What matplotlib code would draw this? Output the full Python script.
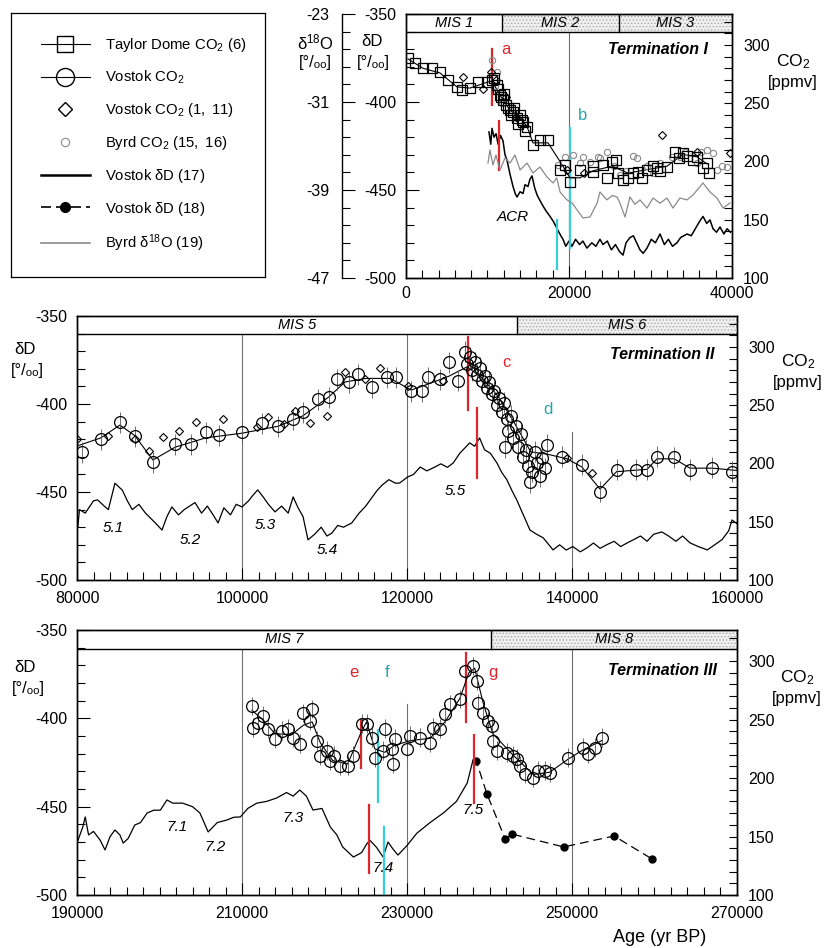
import matplotlib.pyplot as plt
from matplotlib.lines import Line2D
from matplotlib.patches import Rectangle
from matplotlib.ticker import MultipleLocator, FixedLocator
import numpy as np

plt.rcParams['font.family'] = ['Liberation Sans', 'DejaVu Sans']
plt.rcParams['mathtext.fontset'] = 'custom'
plt.rcParams['mathtext.rm'] = 'Liberation Sans'
plt.rcParams['mathtext.it'] = 'Liberation Sans:italic'
plt.rcParams['hatch.linewidth'] = 0.6
plt.rcParams['axes.unicode_minus'] = False

RED = '#e0242b'
CYAN = '#33cfdc'
TEAL = '#2aa3ad'
GREY = '#8a8a8a'

# ---------------- Termination I (0-40 kyr) ----------------
td_age = [250, 1100, 2090, 3190, 4170, 5150, 6260, 6870, 7850, 8830, 9940, 10550, 10800, 11170, 11300,
          11530, 11700, 11900, 12000, 12270, 12500, 12760, 12900, 13130, 13300, 13620, 13800, 14000, 14200,
          14360, 14600, 14850, 15580, 16440, 17420, 18900, 19500, 20120, 21350, 22950, 23000, 24170, 24700,
          25280, 25800, 26010, 26600, 27240, 27800, 28470, 29000, 29570, 30300, 30800, 31200, 32020, 33010,
          33500, 33990, 34500, 35200, 35700, 36400, 36930, 37200]
td_co2 = [288.8, 284.5, 280.2, 280.2, 276.7, 269.9, 263.9, 261.3, 263, 268.2, 268.2, 269.9, 272, 265.6, 262,
          257, 255, 252.7, 258, 248.4, 246, 244.1, 240, 242.4, 246, 237.3, 232, 239.9, 236,
          233.8, 226, 229.6, 214.1, 218.4, 218.4, 192.7, 197, 182.4, 192.7, 191, 196, 197, 186,
          199.5, 201, 190, 184, 185.8, 190, 191, 186, 192.7, 196, 194.4, 192, 195.2, 208.1,
          203, 207.2, 205, 201, 203.8, 194, 198.7, 190]
td_line_age = [250, 2090, 4170, 6260, 7850, 9940, 10550, 11530, 12760, 14000, 14850, 15580, 17420, 18900,
               20120, 21350, 22950, 25280, 27240, 29570, 32020, 33990, 35700, 36930]
td_line_co2 = [288, 280, 276, 264, 263, 268, 269, 257, 244, 238, 230, 216, 216, 200,
               186, 186, 192, 196, 190, 193, 196, 206, 204, 198]

vk_dia_age1 = [7000, 9500, 10400, 11000, 12300, 13500, 19800, 21800, 31400, 35700, 39750]
vk_dia_co21 = [272.5, 262, 277, 270, 255, 238, 193, 190, 222.7, 208, 207]

byrd_age = [10550, 10900, 11170, 11800, 18600, 19500, 20490, 21350, 21720, 22580, 23560, 23800, 24660,
            25500, 26200, 27000, 27900, 28340, 29600, 30300, 31170, 32600, 33620, 34200, 35700, 36200,
            36930, 37670, 38160, 38800, 39390]
byrd_co2 = [287, 265, 276.7, 250, 197, 204, 205.5, 198.7, 203.8, 199.5, 203.8, 203, 208,
            196, 188, 192, 205, 203, 196, 190, 198.7, 204, 203.8, 208, 198.7, 208,
            209.8, 207.2, 192.7, 196, 195.2]

vd1_age = [10180, 10400, 10550, 10800, 11050, 11300, 11600, 11900, 12150, 12390, 12760, 13130, 13400, 13620,
           14000, 14360, 14600, 14970, 15200, 15460, 15800, 16100, 16440, 16800, 17200, 17670, 18100, 18650,
           19000, 19260, 19600, 20000, 20370, 20800, 21300, 21700, 22200, 22800, 23300, 23800, 24170, 24700,
           25200, 25700, 26200, 26630, 27000, 27480, 27900, 28300, 28710, 29100, 29570, 30100, 30600, 31170,
           31700, 32200, 32700, 33250, 33700, 34480, 35000, 35500, 36000, 36440, 36900, 37300, 37670, 38100,
           38530, 39000, 39400, 39800]
vd1_dd = [-417, -424, -415, -420, -418, -424, -419, -422, -430, -433, -441, -448, -452, -454,
          -451, -452, -447, -448, -444, -442, -449, -453, -456, -459, -462, -465, -468, -473,
          -476, -478, -482, -479, -482, -478, -481, -479, -483, -480, -482, -478, -481, -479,
          -484, -481, -485, -487, -480, -477, -476, -480, -484, -486, -483, -478, -480, -475,
          -481, -478, -482, -480, -477, -475, -476, -472, -468, -465, -469, -467, -472, -474,
          -471, -475, -472, -474]

byrd_d18o_age = [10060, 10300, 10670, 11040, 11530, 12150, 12760, 13370, 14000, 14850, 15580, 16440, 17300,
                 18040, 18500, 18900, 19750, 20400, 20980, 21720, 22580, 23440, 23800, 24660, 25300, 25900,
                 26260, 26870, 27480, 28100, 28710, 29570, 30310, 31170, 32020, 32760, 33620, 34480, 35220,
                 36440, 37300, 38160, 38900, 39750]
byrd_d18o = [-36.55, -35.36, -36.73, -35.82, -37.18, -36.09, -36.55, -35.82, -37.18, -36.55, -37.45, -36.91, -37.82,
             -38.36, -37.9, -39.18, -39.9, -40.2, -40.8, -41.55, -41.45, -40.2, -39.18, -39.9, -39.5, -39.64,
             -40.2, -41.45, -39.64, -40.3, -39.9, -40.64, -39.73, -40.2, -39.73, -40.64, -39.73, -39.9, -39.45,
             -38.36, -39.18, -39.73, -40.64, -40.18]

# ---------------- Termination II (80-160 kyr) ----------------
vk2_age = [80600, 82900, 85200, 87000, 89200, 91900, 93800, 95600, 97200, 100000, 102400, 104400, 106200,
           107400, 109200, 110500, 111500, 113000, 114000, 115800, 117600, 118700, 120500, 121800, 122500,
           124000, 125100, 126200, 127000, 127300, 127600, 127900, 128200, 128500, 128800, 129100, 129400,
           129700, 130000, 130300, 130600, 130900, 131200, 131500, 131800, 131900, 132100, 132300, 132600,
           132900, 133200, 133500, 133800, 134100, 134400, 134700, 134900, 135200, 135500, 135800, 136100,
           136400, 136700, 137000, 138800, 141200, 143400, 145400, 147700, 149100, 150300, 152400, 154300,
           157000, 159400]
vk2_co2 = [209.5, 220.7, 235.3, 223.3, 200.9, 216.4, 216.4, 226.7, 224.1, 226.7, 234.5, 231.9, 237.9,
           243.9, 255.2, 256.9, 272.4, 269.8, 276.7, 265.5, 274.1, 274.1, 262, 262, 274.1,
           272.4, 287, 271, 296, 285, 291, 280, 287, 276, 282, 271, 275,
           265, 270, 260, 262, 250, 256, 244, 252, 214, 238, 228, 241,
           222, 232, 214, 225, 206, 212, 198, 184, 193, 210, 200, 189,
           205, 196, 216, 206, 199.1, 175.9, 194.8, 194.8, 194.8, 206, 205.2, 194.8,
           196.5, 193]
vk2_line_age = [80000, 82900, 85200, 87000, 89200, 91900, 95600, 100000, 104400, 107400, 110500, 112500,
                115000, 118000, 120500, 122500, 125100, 127300, 129000, 131000, 133000, 135000, 137000,
                139400, 141200, 143400, 145400, 149100, 150300, 152400, 154300, 157000, 160000]
vk2_line_co2 = [215, 222, 233, 224, 203, 214, 222, 226, 232, 241, 257, 270,
                273, 273, 263, 268, 275, 283, 274, 258, 235, 210, 208,
                204, 197, 178, 193, 195, 204, 204, 196, 196, 194]
vk2_dia_age = [80000, 83800, 87000, 88700, 90400, 92400, 94400, 97700, 101800, 103200, 105100, 106400,
               108200, 110300, 112500, 114900, 116700, 120100, 124400, 139400, 142400]
vk2_dia_co2 = [220.7, 223.3, 221, 210.3, 222.4, 227.6, 235.3, 237.9, 231, 239.6, 233.6, 244.8,
               234.5, 240.5, 278.4, 272.4, 281.9, 266.4, 270.6, 205, 192.2]
vd2_age = [80100, 80300, 81000, 82000, 82500, 83300, 83800, 84600, 85500, 86100, 86700, 87500, 88300, 89500,
           90300, 90900, 91500, 92300, 93000, 94300, 95100, 95800, 96500, 97100, 97800, 98600, 99300, 100000,
           100800, 101300, 101900, 102600, 103200, 104000, 104800, 105600, 106200, 106800, 107400, 108000,
           108800, 109600, 110300, 110900, 111600, 112300, 113300, 114200, 115000, 115800, 116400, 117000,
           117800, 118600, 119100, 120100, 120800, 121600, 122400, 123300, 124100, 124900, 125600, 126400,
           127600, 128200, 128800, 129400, 130100, 130900, 131500, 132100, 132700, 133300, 134100, 134900,
           135700, 136500, 137700, 138500, 139300, 140100, 141000, 141800, 142600, 143400, 144200, 145100,
           145900, 146700, 147500, 148300, 149100, 149900, 150900, 151700, 152600, 153400, 154300, 155300,
           156400, 157300, 158200, 159000, 159400, 160000]
vd2_dd = [-469.8, -460, -462, -455, -454.5, -458, -460, -445, -449, -455, -460, -457, -462, -467.6,
          -471.6, -464, -458.5, -463, -460, -456, -462, -458, -463, -467.6, -459, -463, -457, -458.5,
          -455, -452, -448.8, -453, -457, -461.3, -458, -462, -452.8, -459, -464, -477.2,
          -474, -470, -475, -473.3, -469, -470, -467.6, -462, -458, -452.8, -449, -446,
          -443, -445, -444.9, -441.4, -440, -435.8, -438, -436, -434, -436, -433.5, -428,
          -422.1, -424, -419.3, -426, -428, -433.5, -439, -443, -449, -454.5, -463, -471.6,
          -474, -476, -482.9, -480, -483, -481, -484, -481.8, -479, -482, -480, -478,
          -481, -478.9, -477, -475, -478, -474, -472.7, -475, -478, -475, -478.9, -481,
          -482.9, -480, -477, -472, -465.9, -468]

# ---------------- Termination III (190-270 kyr) ----------------
vk3_age = [211200, 211300, 211900, 212500, 213100, 214000, 214800, 215600, 216200, 217000, 217400, 218200,
           218500, 219100, 219500, 220300, 220700, 221200, 221900, 222800, 223500, 224500, 225100, 225800,
           226100, 227100, 227300, 228200, 228300, 228500, 230000, 230400, 231600, 232800, 233100, 234000,
           234600, 235200, 236400, 237000, 238000, 238500, 238600, 239200, 239800, 240300, 240400, 240900,
           242100, 242800, 243300, 243700, 244300, 245300, 245900, 246700, 247300, 249500, 251300, 251900,
           252800, 253600]
vk3_co2 = [261.7, 243, 247, 253.2, 242.1, 233.6, 240.4, 242.1, 234.5, 229.4, 255.7, 248.9,
           259.1, 231.9, 219.1, 223.4, 214.9, 219, 210.6, 210.6, 219.1, 246.4, 246.4, 234.5,
           217.4, 223.4, 242.1, 225.1, 212.3, 233.6, 225.1, 236.2, 234.5, 230.2, 243, 242.1,
           254.9, 263.4, 267.6, 291.5, 295.7, 283, 264.2, 255.7, 248.9, 244.7, 231.9, 223.4,
           221.7, 219.1, 216.6, 210.6, 203.8, 200.4, 206.4, 206.4, 204.7, 217.4, 226, 220.9,
           226, 234.5]
vk3_line_age = [211200, 212500, 214000, 216000, 217400, 218500, 219500, 221000, 222800, 224500, 225100,
                226100, 227300, 228500, 230400, 232800, 234600, 236400, 237500, 238200, 239200, 240400,
                242800, 245300, 247300, 249500, 251300, 253600]
vk3_line_co2 = [258, 250, 238, 237, 245, 248, 230, 215, 212, 240, 248,
                225, 222, 228, 232, 234, 248, 268, 290, 294, 265, 238,
                220, 203, 205, 216, 224, 232]
vd3_age = [190000, 190700, 191000, 191400, 192000, 192800, 193400, 194000, 194600, 195200, 195600, 196200,
           197000, 197700, 198500, 199300, 200100, 200900, 201600, 202800, 204000, 204900, 205900, 207000,
           208200, 209000, 209800, 210700, 211800, 213000, 214200, 215400, 216200, 217000, 217800, 218600,
           219700, 220700, 221500, 222200, 223500, 224500, 225100, 225500, 226300, 227100, 227700, 228300,
           228900, 230000, 231200, 232800, 234400, 236000, 237300, 238000]
vd3_dd = [-470.6, -461.5, -455.8, -466, -464, -468.9, -474.5, -467, -463.2, -466, -470.6, -468,
          -460.4, -459, -453.6, -452, -452, -446.2, -448, -448, -450, -453.6, -464.3, -459,
          -457.5, -456, -455.8, -451, -448, -447, -445.1, -442, -444, -440.6, -444, -451.9,
          -451, -461.5, -466, -472.8, -478.5, -476, -471.2, -469, -473, -478.5, -470, -474,
          -477.4, -472, -465, -459, -453.6, -447, -436.6, -423.6]
vd18_age = [238000, 238400, 239700, 241900, 242700, 249000, 255100, 259700]
vd18_dd = [-423.6, -424.2, -442.9, -468.3, -465.5, -472.8, -466.6, -479.6]


def fx(x):
    return x / 829


def fy(y):
    return 1 - y / 948


def panel(rect, x0, x1, mis, grid):
    ax = fig.add_axes(rect)
    ax.set_xlim(x0, x1)
    ax.set_ylim(-500, -350)
    ax.set_xticks(np.arange(x0, x1 + 1, 20000))
    ax.xaxis.set_major_formatter(plt.FuncFormatter(lambda v, p: '%d' % v))
    ax.xaxis.set_minor_locator(MultipleLocator(2000))
    ax.set_yticks([-500, -450, -400, -350])
    ax.yaxis.set_minor_locator(MultipleLocator(10))
    ax.tick_params(which='both', direction='in', labelsize=11.5, width=0.8)
    ax.tick_params(which='major', length=9)
    ax.tick_params(which='minor', length=6)
    ax.tick_params(axis='x', pad=8)
    ax.tick_params(axis='y', pad=7)
    for s in ax.spines.values():
        s.set_linewidth(1.0)
    # MIS band
    band = -360.5
    for a, b, lab, shade in mis:
        if shade:
            ax.add_patch(Rectangle((a, band), b - a, -350 - band, facecolor='#f0f0f0',
                                   edgecolor='#a8a8a8', hatch='.....', lw=0, zorder=1))
        if a > x0:
            ax.plot([a, a], [band, -350], color='k', lw=1.0, zorder=2)
        ax.text((a + b) / 2, (band - 350) / 2, lab, style='italic', fontsize=10.5,
                ha='center', va='center', zorder=3)
    ax.axhline(band, color='k', lw=1.0, zorder=2)
    for g, ystart in grid:
        ax.plot([g, g], [ystart, -500], color='#6e6e6e', lw=0.8, zorder=1)
    ax2 = ax.twinx()
    ax2.set_ylim(100, 326.6)
    ax2.set_yticks([100, 150, 200, 250, 300])
    ax2.yaxis.set_minor_locator(MultipleLocator(10))
    ax2.tick_params(which='both', direction='in', labelsize=11.5, length=6, width=0.8, pad=8)
    for s in ax2.spines.values():
        s.set_linewidth(1.0)
    return ax, ax2


def mark(ax, x, y0, y1, color):
    ax.plot([x, x], [y0, y1], color=color, lw=1.6, zorder=6)


fig = plt.figure(figsize=(8.29, 9.48), dpi=100)

# ---------- top panel ----------
ax, ax2 = panel([fx(406), fy(278), 326 / 829, 264 / 948], 0, 40000,
                [(0, 11800, 'MIS 1', False), (11800, 26100, 'MIS 2', True), (26100, 40000, 'MIS 3', True)],
                [(20000, -360.5)])
ax.tick_params(axis='x', pad=6)
ax3 = ax.twinx()
ax3.set_ylim(-47, -23)
ax3.yaxis.set_ticks_position('left')
ax3.yaxis.set_label_position('left')
ax3.spines['left'].set_position(('axes', -0.196))
ax3.spines['left'].set_visible(True)
ax3.spines['left'].set_linewidth(1.0)
for k in ['right', 'top', 'bottom']:
    ax3.spines[k].set_visible(False)
ax3.set_yticks([-47, -39, -31, -23])
ax3.yaxis.set_minor_locator(FixedLocator(np.arange(-47, -22.9, 1.6)))
ax3.tick_params(which='both', direction='in', labelsize=11.5, width=0.8, pad=9)
ax3.tick_params(which='major', length=9)
ax3.tick_params(which='minor', length=6)

ax.plot(vd1_age, vd1_dd, color='k', lw=1.1, zorder=4)
ax3.plot(byrd_d18o_age, byrd_d18o, color=GREY, lw=0.9, zorder=3)
ax2.plot(td_line_age, td_line_co2, color='k', lw=0.8, zorder=3)
ax2.plot(byrd_age, byrd_co2, ls='none', marker='o', ms=4.5, mfc='none', mec=GREY, mew=0.8, zorder=3)
ax2.plot(vk_dia_age1, vk_dia_co21, ls='none', marker='D', ms=4.5, mfc='none', mec='k', mew=0.8, zorder=4)
ax2.plot(td_age, td_co2, ls='none', marker='s', ms=6.5, mfc='none', mec='k', mew=0.9, zorder=4)
mark(ax, 10550, -370, -401.7, RED)
mark(ax, 11400, -411, -438.6, RED)
mark(ax, 20120, -414.8, -483, CYAN)
mark(ax, 18530, -467, -495, CYAN)
ax.text(11660, -370.4, 'a', color=RED, fontsize=12, va='center', zorder=7)
ax.text(21100, -407.4, 'b', color=TEAL, fontsize=12, va='center', zorder=7)
ax.text(13130, -465.3, 'ACR', style='italic', fontsize=11, ha='center', va='center', zorder=7)
ax.text(37050, -370.4, 'Termination I', style='italic', weight='bold', fontsize=11.5,
        ha='right', va='center', zorder=7)

# ---------- middle panel ----------
ax, ax2 = panel([fx(77), fy(580), 660 / 829, 264 / 948], 80000, 160000,
                [(80000, 133300, 'MIS 5', False), (133300, 160000, 'MIS 6', True)],
                [(100000, -360.5), (120000, -360.5), (140000, -416)])
ax.plot(vd2_age, vd2_dd, color='k', lw=0.9, zorder=4)
ax2.plot(vk2_line_age, vk2_line_co2, color='k', lw=0.8, zorder=3)
ax2.errorbar(vk2_age, vk2_co2, yerr=9, fmt='none', ecolor='#555555', elinewidth=0.6, zorder=3)
ax2.plot(vk2_dia_age, vk2_dia_co2, ls='none', marker='D', ms=4.5, mfc='none', mec='k', mew=0.8, zorder=4)
ax2.plot(vk2_age, vk2_co2, ls='none', marker='o', ms=8.5, mfc='none', mec='k', mew=0.9, zorder=4)
mark(ax, 127400, -362, -403.4, RED)
mark(ax, 128500, -402.3, -442, RED)
ax.text(131600, -376.7, 'c', color=RED, fontsize=12, va='center', zorder=7)
ax.text(136500, -403.4, 'd', color=TEAL, fontsize=12, va='center', zorder=7)
for lab, x, y in [('5.1', 84400, -470.4), ('5.2', 93700, -477.2), ('5.3', 102800, -468.7),
                  ('5.4', 110300, -482.9), ('5.5', 125800, -449.4)]:
    ax.text(x, y, lab, style='italic', fontsize=11, ha='center', va='center', zorder=7)
ax.text(157300, -372, 'Termination II', style='italic', weight='bold', fontsize=11.5,
        ha='right', va='center', zorder=7)

# ---------- bottom panel ----------
ax, ax2 = panel([fx(77), fy(895), 660 / 829, 265 / 948], 190000, 270000,
                [(190000, 240200, 'MIS 7', False), (240200, 270000, 'MIS 8', True)],
                [(210000, -360.5), (230000, -392), (250000, -360.5)])
ax.plot(vd3_age, vd3_dd, color='k', lw=0.9, zorder=4)
ax.plot(vd18_age, vd18_dd, color='k', lw=0.9, ls=(0, (7, 4)), zorder=4)
ax.plot(vd18_age[1:], vd18_dd[1:], ls='none', marker='o', ms=5, color='k', zorder=5)
ax2.plot(vk3_line_age, vk3_line_co2, color='k', lw=0.8, zorder=3)
ax2.errorbar(vk3_age, vk3_co2, yerr=8, fmt='none', ecolor='#555555', elinewidth=0.6, zorder=3)
ax2.plot(vk3_age, vk3_co2, ls='none', marker='o', ms=8.5, mfc='none', mec='k', mew=0.9, zorder=4)
mark(ax, 224400, -400.9, -428.1, RED)
mark(ax, 226500, -406.6, -447.4, CYAN)
mark(ax, 225400, -449, -487.5, RED)
mark(ax, 227200, -461.5, -500, CYAN)
mark(ax, 237100, -363, -402, RED)
mark(ax, 238100, -409.4, -447.9, RED)
ax.text(223600, -374.3, 'e', color=RED, fontsize=12, ha='center', va='center', zorder=7)
ax.text(227600, -374.3, 'f', color=TEAL, fontsize=12, ha='center', va='center', zorder=7)
ax.text(240400, -373.8, 'g', color=RED, fontsize=12, ha='center', va='center', zorder=7)
for lab, x, y in [('7.1', 202100, -461.5), ('7.2', 206700, -472.8), ('7.3', 216200, -456.4),
                  ('7.4', 227100, -484.7), ('7.5', 238000, -451.9)]:
    ax.text(x, y, lab, style='italic', fontsize=11, ha='center', va='center', zorder=7)
ax.text(267600, -373.2, 'Termination III', style='italic', weight='bold', fontsize=11.5,
        ha='right', va='center', zorder=7)

# ---------- axis titles ----------
pm = '[°/ₒₒ]'
for x, y, s in [(315, 42, 'δ$^{18}$O'), (315, 63, pm), (372, 42, 'δD'), (373, 63, pm),
                (25, 350, 'δD'), (27, 371, pm), (25, 667, 'δD'), (28, 689, pm)]:
    fig.text(fx(x), fy(y), s, fontsize=12, ha='center', va='center')
for x, y in [(793, 62), (798, 362), (797, 678)]:
    fig.text(fx(x), fy(y), 'CO$_2$', fontsize=12.5, ha='center', va='center')
    fig.text(fx(x), fy(y + 20), '[ppmv]', fontsize=12, ha='center', va='center')
fig.text(fx(660), fy(937), 'Age (yr BP)', fontsize=13, ha='center', va='center')

# ---------- legend box ----------
lax = fig.add_axes([fx(11), fy(277), 254 / 829, 264 / 948])
lax.set_xticks([])
lax.set_yticks([])
for s in lax.spines.values():
    s.set_linewidth(0.9)
handles = [
    Line2D([], [], color='k', lw=0.8, marker='s', ms=12, mfc='none', mec='k', mew=1.0),
    Line2D([], [], color='k', lw=0.8, marker='o', ms=13, mfc='none', mec='k', mew=1.0),
    Line2D([], [], ls='none', marker='D', ms=7, mfc='none', mec='k', mew=1.0),
    Line2D([], [], ls='none', marker='o', ms=6, mfc='none', mec=GREY, mew=0.8),
    Line2D([], [], color='k', lw=1.8),
    Line2D([], [], color='k', lw=1.2, ls=(0, (6, 3)), marker='o', ms=7, mfc='k', mec='k'),
    Line2D([], [], color=GREY, lw=1.2),
]
labels = ['Taylor Dome CO$_2$ ($\\mathit{6}$)', 'Vostok CO$_2$', 'Vostok CO$_2$ ($\\mathit{1,\\ 11}$)',
          'Byrd CO$_2$ ($\\mathit{15,\\ 16}$)', 'Vostok δD ($\\mathit{17}$)', 'Vostok δD ($\\mathit{18}$)',
          'Byrd δ$^{18}$O ($\\mathit{19}$)']
lax.legend(handles, labels, loc='center left', frameon=False, fontsize=10.7, handlelength=3.3,
           labelspacing=1.0, handletextpad=1.0, borderaxespad=1.6)

fig.savefig('out.png', dpi=100)
